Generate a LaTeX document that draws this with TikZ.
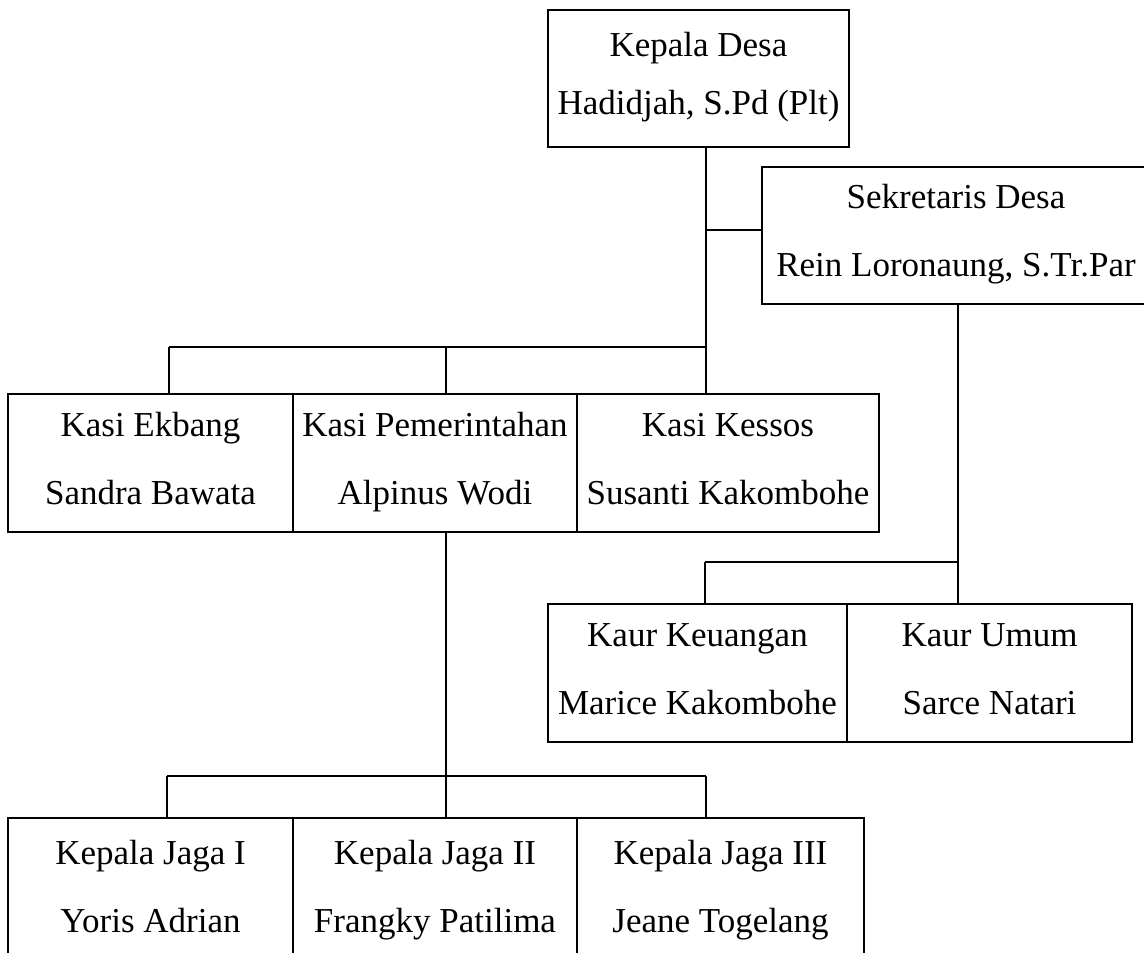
\documentclass[tikz,border=0pt]{standalone}
\usepackage{fontspec}
\setmainfont{Liberation Serif}
\newcommand{\baris}{\rule[-10pt]{0pt}{34pt}}
\tikzset{
    jabatan/.style={draw, line width=1.8pt, minimum height=138pt, inner sep=0pt,
        align=center, font=\fontsize{35}{68}\selectfont},
    garis/.style={line width=1.8pt}
}
\begin{document}
\begin{tikzpicture}[x=1pt, y=-1pt]
    \useasboundingbox (0, 0) rectangle (1144, 953);

    % Kepala Desa dan Sekretaris
    \node[jabatan, minimum width=301pt, minimum height=137pt, font=\fontsize{35}{58}\selectfont] (kades) at (698.5, 78.5) {\baris Kepala Desa\\\baris Hadidjah, S.Pd (Plt)};
    \node[jabatan, minimum width=388pt, minimum height=137pt] (sekdes) at (956, 235.5) {\baris Sekretaris Desa\\\baris Rein Loronaung, S.Tr.Par};

    % Kepala Seksi
    \node[jabatan, minimum width=285pt] (ekbang) at (150.5, 463) {\baris Kasi Ekbang\\\baris Sandra Bawata};
    \node[jabatan, minimum width=284pt] (pemerintahan) at (435, 463) {\baris Kasi Pemerintahan\\\baris Alpinus Wodi};
    \node[jabatan, minimum width=302pt] (kessos) at (728, 463) {\baris Kasi Kessos\\\baris Susanti Kakombohe};

    % Kepala Urusan
    \node[jabatan, minimum width=299pt] (keuangan) at (697.5, 673) {\baris Kaur Keuangan\\\baris Marice Kakombohe};
    \node[jabatan, minimum width=285pt] (umum) at (989.5, 673) {\baris Kaur Umum\\\baris Sarce Natari};

    % Kepala Jaga
    \node[jabatan, minimum width=285pt, minimum height=146pt] (jaga1) at (150.5, 891) {\baris Kepala Jaga I\\\baris Yoris Adrian};
    \node[jabatan, minimum width=284pt, minimum height=146pt] (jaga2) at (435, 891) {\baris Kepala Jaga II\\\baris Frangky Patilima};
    \node[jabatan, minimum width=287pt, minimum height=146pt] (jaga3) at (720.5, 891) {\baris Kepala Jaga III\\\baris Jeane Togelang};

    % Titik cabang
    \coordinate (cabang-sek) at (706, 230);
    \coordinate (kasi-a) at (169, 347);
    \coordinate (kasi-b) at (446, 347);
    \coordinate (kasi-c) at (706, 347);
    \coordinate (kaur-a) at (705, 562);
    \coordinate (kaur-b) at (958, 562);
    \coordinate (jaga-a) at (167, 776);
    \coordinate (jaga-b) at (446, 776);
    \coordinate (jaga-c) at (706, 776);

    % Garis
    \draw[garis] (kades.south -| kasi-c) -- (kasi-c);
    \draw[garis] (cabang-sek) -- (sekdes.west |- cabang-sek);
    \draw[garis] (kasi-a) -- (kasi-c);
    \draw[garis] (kasi-a) -- (ekbang.north -| kasi-a);
    \draw[garis] (kasi-b) -- (pemerintahan.north -| kasi-b);
    \draw[garis] (kasi-c) -- (kessos.north -| kasi-c);

    \draw[garis] (sekdes.south -| kaur-b) -- (kaur-b) -- (kaur-a);
    \draw[garis] (kaur-a) -- (keuangan.north -| kaur-a);
    \draw[garis] (kaur-b) -- (umum.north -| kaur-b);

    \draw[garis] (pemerintahan.south -| jaga-b) -- (jaga-b);
    \draw[garis] (jaga-a) -- (jaga-c);
    \draw[garis] (jaga-a) -- (jaga1.north -| jaga-a);
    \draw[garis] (jaga-b) -- (jaga2.north -| jaga-b);
    \draw[garis] (jaga-c) -- (jaga3.north -| jaga-c);
\end{tikzpicture}
\end{document}
